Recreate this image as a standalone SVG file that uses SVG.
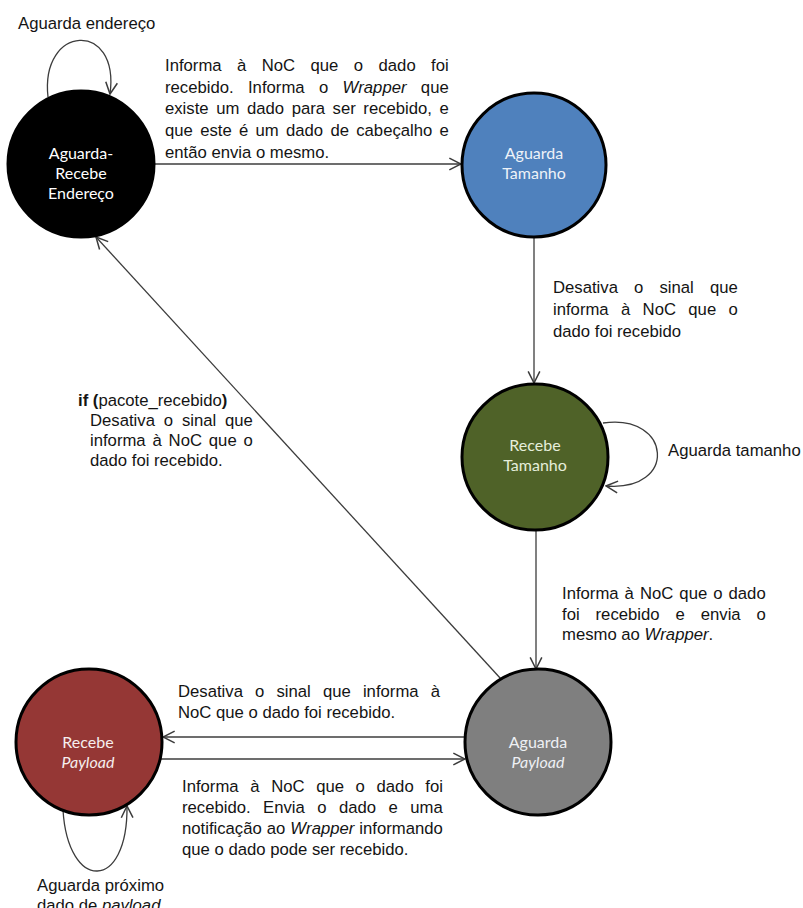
<svg xmlns="http://www.w3.org/2000/svg" width="803" height="908" viewBox="0 0 803 908">
  <style>
    .bg { fill: #ffffff; }
    .state { stroke: #000000; stroke-width: 3; }
    .lbl { font-family: Lato, "Open Sans", sans-serif; font-size: 16px; text-anchor: middle; }
    .txt { font-family: "Liberation Sans", Arial, sans-serif; font-size: 16.7px; fill: #141414; }
    .edge { fill: none; stroke: #3c3c3c; stroke-width: 1.3; marker-end: url(#open-arrow); }
    .it { font-style: italic; }
  </style>
  <defs>
    <marker id="open-arrow" markerUnits="userSpaceOnUse" markerWidth="14" markerHeight="14" viewBox="0 0 12 12" refX="11" refY="6" orient="auto">
      <path d="M1,1 L11,6 L1,11" fill="none" stroke="#3c3c3c" stroke-width="1.3"/>
    </marker>
  </defs>

  <rect class="bg" x="0" y="0" width="803" height="908"/>

  <!-- transitions -->
  <g id="connectors">
    <!-- self loop: waiting for address -->
    <path class="edge" d="M48,97 C40,24 120,20 110,94"/>
    <!-- address state to size wait -->
    <path class="edge" d="M155,164 L461,164"/>
    <!-- size wait to size receive -->
    <path class="edge" d="M534,238 L534,383"/>
    <!-- self loop: waiting for size -->
    <path class="edge" d="M603,423 C672,413 678,492 606,486"/>
    <!-- size receive to payload wait -->
    <path class="edge" d="M536,531 L536,669"/>
    <!-- packet received: back to address state -->
    <path class="edge" d="M501,679 L96,237"/>
    <!-- payload wait to payload receive -->
    <path class="edge" d="M466,737 L163,737"/>
    <!-- payload receive to payload wait -->
    <path class="edge" d="M161,759 L465,759"/>
    <!-- self loop: waiting next payload data -->
    <path class="edge" d="M63,810 C68,892 128,892 127,806"/>
  </g>

  <!-- states -->
  <g id="aguarda-recebe-endereco">
    <circle class="state" cx="81" cy="164" r="73" fill="#000000"/>
    <text class="lbl" fill="#ffffff"><tspan x="81" y="159">Aguarda-</tspan><tspan x="81" y="179">Recebe</tspan><tspan x="81" y="199">Endereço</tspan></text>
  </g>

  <g id="aguarda-tamanho">
    <circle class="state" cx="534" cy="165" r="72" fill="#4f81bd"/>
    <text class="lbl" fill="#eef2f8"><tspan x="534" y="159">Aguarda</tspan><tspan x="534" y="179">Tamanho</tspan></text>
  </g>

  <g id="recebe-tamanho">
    <circle class="state" cx="535" cy="457" r="73" fill="#4f6228"/>
    <text class="lbl" fill="#e6eedb"><tspan x="535" y="451">Recebe</tspan><tspan x="535" y="471">Tamanho</tspan></text>
  </g>

  <g id="aguarda-payload">
    <circle class="state" cx="538" cy="742" r="73" fill="#7f7f7f"/>
    <text class="lbl" fill="#eef0f4"><tspan x="538" y="748">Aguarda</tspan><tspan x="538" y="768" class="it">Payload</tspan></text>
  </g>

  <g id="recebe-payload">
    <circle class="state" cx="89" cy="742" r="73" fill="#953735"/>
    <text class="lbl" fill="#f6eeee"><tspan x="88" y="748">Recebe</tspan><tspan x="88" y="768" class="it">Payload</tspan></text>
  </g>

  <!-- transition labels -->
  <g id="labels">
    <text class="txt" x="18" y="29">Aguarda endereço</text>

    <text class="txt" x="165" y="71" word-spacing="10.8">Informa à NoC que o dado foi</text>
    <text class="txt" x="165" y="92.7" word-spacing="9.7">recebido. Informa o <tspan class="it">Wrapper</tspan> que</text>
    <text class="txt" x="165" y="114.3" word-spacing="2.94">existe um dado para ser recebido, e</text>
    <text class="txt" x="165" y="136" word-spacing="2.65">que este é um dado de cabeçalho e</text>
    <text class="txt" x="165" y="157.7">então envia o mesmo.</text>

    <text class="txt" x="553" y="293" word-spacing="11.5">Desativa o sinal que</text>
    <text class="txt" x="553" y="315" word-spacing="7.7">informa à NoC que o</text>
    <text class="txt" x="553" y="337">dado foi recebido</text>

    <text class="txt" x="668" y="456">Aguarda tamanho</text>

    <text class="txt" x="78" y="406"><tspan font-weight="bold">if (</tspan>pacote_recebido<tspan font-weight="bold">)</tspan></text>
    <text class="txt" x="90" y="426" word-spacing="4.2">Desativa o sinal que</text>
    <text class="txt" x="90" y="446" word-spacing="2.2">informa à NoC que o</text>
    <text class="txt" x="90" y="466">dado foi recebido.</text>

    <text class="txt" x="562" y="599" word-spacing="1.4">Informa à NoC que o dado</text>
    <text class="txt" x="562" y="619.5" word-spacing="11.3">foi recebido e envia o</text>
    <text class="txt" x="562" y="640">mesmo ao <tspan class="it">Wrapper</tspan>.</text>

    <text class="txt" x="178" y="697" word-spacing="7.5">Desativa o sinal que informa à</text>
    <text class="txt" x="178" y="718">NoC que o dado foi recebido.</text>

    <text class="txt" x="182" y="792" word-spacing="7.0">Informa à NoC que o dado foi</text>
    <text class="txt" x="182" y="813" word-spacing="7.8">recebido. Envia o dado e uma</text>
    <text class="txt" x="182" y="834" word-spacing="0.36">notificação ao <tspan class="it">Wrapper</tspan> informando</text>
    <text class="txt" x="182" y="855">que o dado pode ser recebido.</text>

    <text class="txt" x="37" y="891">Aguarda próximo</text>
    <text class="txt" x="37" y="911">dado de <tspan class="it">payload</tspan></text>
  </g>
</svg>
